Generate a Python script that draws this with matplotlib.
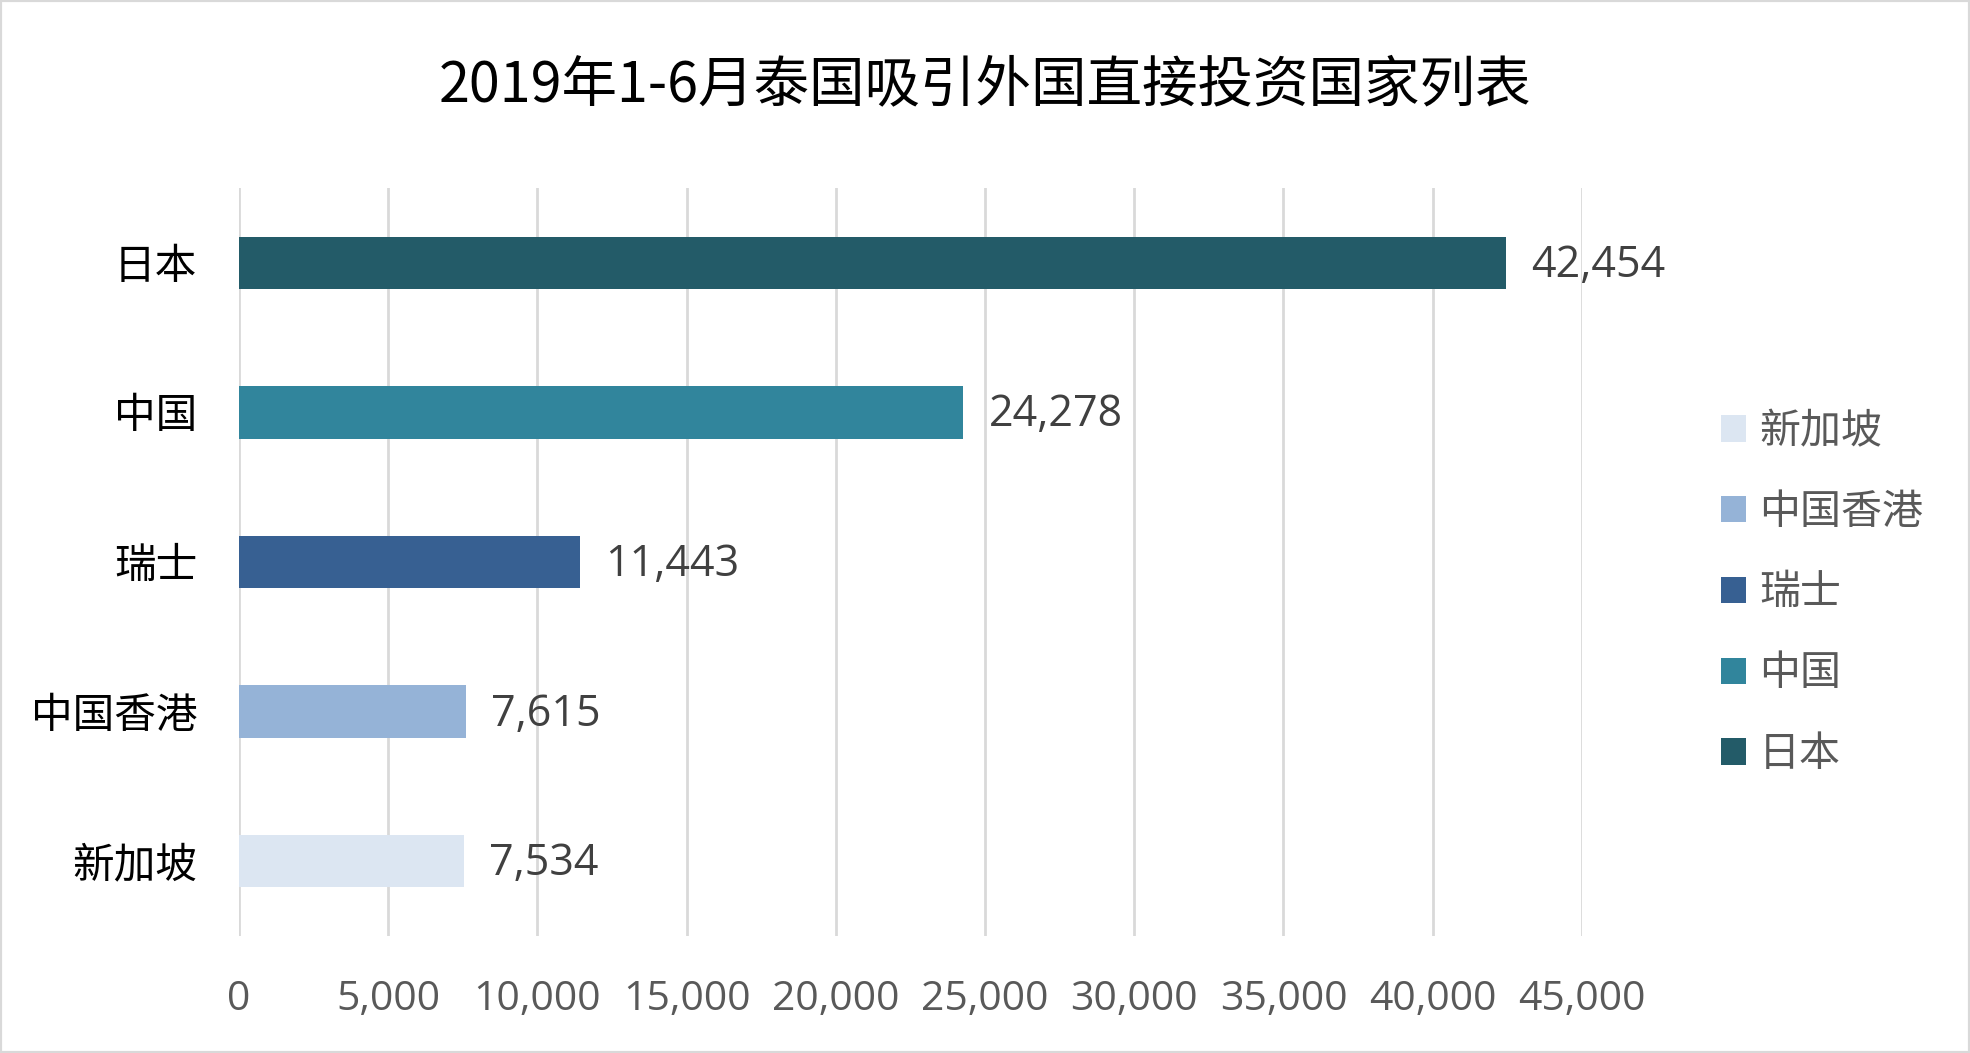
import matplotlib
matplotlib.use('Agg')
import matplotlib.pyplot as plt
from matplotlib.patches import Patch, Rectangle
from matplotlib.ticker import FuncFormatter

plt.rcParams['font.family'] = ['Noto Sans CJK SC', 'DejaVu Sans']

# data, listed bottom to top
countries = ['新加坡', '中国香港', '瑞士', '中国', '日本']
values = [7534, 7615, 11443, 24278, 42454]
colors = ['#DCE6F2', '#95B3D7', '#376092', '#31859C', '#235B68']
x_ticks = [0, 5000, 10000, 15000, 20000, 25000, 30000, 35000, 40000, 45000]
title = '2019年1-6月泰国吸引外国直接投资国家列表'

fig = plt.figure(figsize=(19.7, 10.53), dpi=100)
ax = fig.add_axes([0.1213, 0.1111, 0.6817, 0.7104])

pos = list(range(len(countries)))
ax.barh(pos, values, height=0.35, color=colors, zorder=3)

for p, v in zip(pos, values):
    ax.annotate(f'{v:,}', (v, p), xytext=(18, -2), textcoords='offset points',
                va='center', ha='left', fontsize=31, color='#404040',
                family=['Open Sans', 'DejaVu Sans'])

ax.set_xlim(0, 45000)
ax.set_ylim(-0.5, 4.5)
ax.set_xticks(x_ticks)
ax.xaxis.set_major_formatter(FuncFormatter(lambda v, _: f'{int(v):,}'))
ax.set_yticks(pos)
ax.set_yticklabels(countries, fontsize=30, color='black')
ax.tick_params(axis='x', length=0, pad=31, labelsize=29.5, labelcolor='#595959')
ax.tick_params(axis='y', length=0, pad=30)
for lab in ax.get_xticklabels():
    lab.set_family(['Open Sans', 'DejaVu Sans'])
ax.grid(axis='x', color='#D9D9D9', linewidth=2, zorder=0)
for s in ax.spines.values():
    s.set_visible(False)

handles = [Patch(facecolor=c, edgecolor='none', label=n) for n, c in zip(countries, colors)]
leg = fig.legend(handles=handles, loc='center left', bbox_to_anchor=(1721 / 1970, 0.4369),
                 frameon=False, fontsize=29.5, handlelength=0.61, handleheight=0.61,
                 handletextpad=0.32, labelspacing=0.97, borderpad=0, borderaxespad=0)
for t in leg.get_texts():
    t.set_color('#595959')

fig.text(0.5, 1 - 86 / 1053, title, ha='center', va='center', fontsize=40, color='black')

fig.patches.append(Rectangle((0, 0), 1, 1, transform=fig.transFigure, fill=False,
                             edgecolor='#D9D9D9', linewidth=3))

fig.savefig('out.png', dpi=100)
